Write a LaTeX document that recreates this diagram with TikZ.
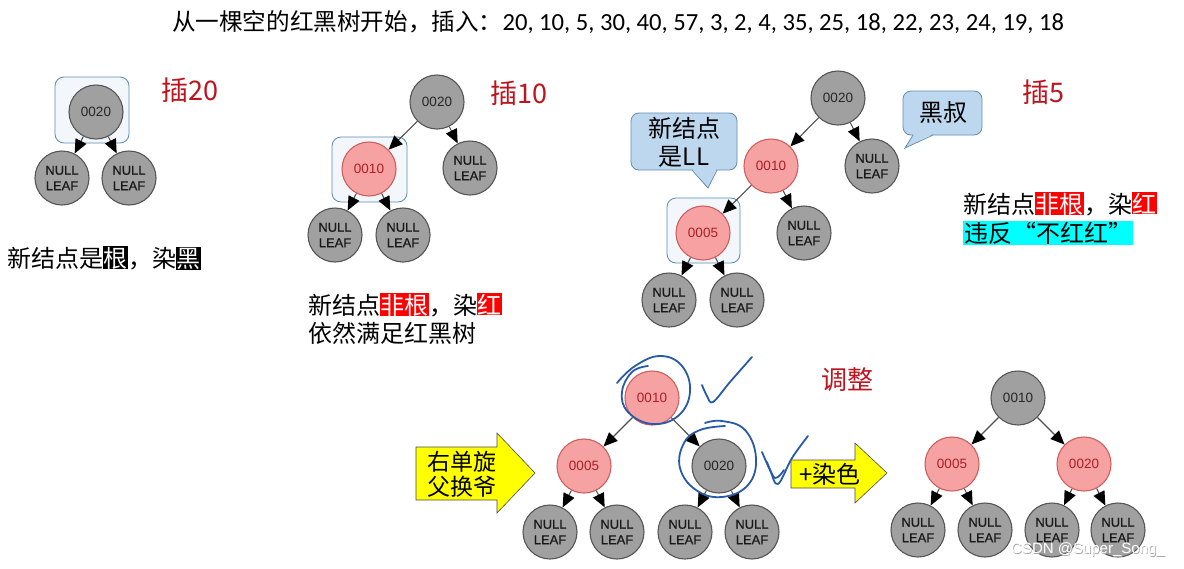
\documentclass[tikz,border=0pt]{standalone}
\usepackage{fontspec}
\setmainfont{Liberation Sans}
\newfontfamily\cjk{Noto Sans CJK SC}
\newfontfamily\califont{Carlito}
\newfontfamily\nodefont[FakeBold=0.5]{Liberation Sans}
\usetikzlibrary{arrows.meta}
\definecolor{ngray}{RGB}{160,160,160}
\definecolor{ngraydraw}{RGB}{85,85,85}
\definecolor{nred}{RGB}{246,162,162}
\definecolor{nreddraw}{RGB}{205,95,95}
\definecolor{nredtext}{RGB}{170,30,40}
\definecolor{titlered}{RGB}{190,20,30}
\definecolor{hlred}{RGB}{255,0,0}
\definecolor{hlcyan}{RGB}{0,255,255}
\definecolor{boxfill}{RGB}{243,247,252}
\definecolor{boxdraw}{RGB}{90,140,180}
\definecolor{cofill}{RGB}{189,215,238}
\definecolor{codraw}{RGB}{100,140,180}
\definecolor{inkblue}{RGB}{40,90,170}
\definecolor{arrowyellow}{RGB}{255,255,0}
\definecolor{edgegray}{RGB}{80,80,80}
\newcommand\hlr[1]{{\setlength\fboxsep{0.5pt}\colorbox{hlred}{\textcolor{white}{#1}}}}
\newcommand\hlk[1]{{\setlength\fboxsep{0.5pt}\colorbox{black}{\textcolor{white}{#1}}}}
\tikzset{
  gnode/.style={circle,draw=ngraydraw,fill=ngray,line width=1.1pt,minimum size=54pt,inner sep=0pt,font=\fontsize{13.5}{13.5}\selectfont,text=black!85},
  rnode/.style={gnode,draw=nreddraw,fill=nred,text=nredtext},
  leaf/.style={gnode,align=center,font=\nodefont\fontsize{13}{15.5}\selectfont,text=black!90},
  tedge/.style={draw=edgegray,line width=1.1pt,-{Triangle[length=14pt,width=12pt,fill=black,color=black]}},
  hlbox/.style={draw=boxdraw,fill=boxfill,line width=0.8pt,rounded corners=9pt},
  cofillst/.style={fill=cofill},
  codrawst/.style={draw=codraw,line width=0.8pt},
  cn/.style={font=\cjk\fontsize{24}{28}\selectfont,inner sep=0pt,anchor=west},
  cnc/.style={font=\cjk\fontsize{24}{28}\selectfont,inner sep=0pt,align=center},
  redlab/.style={font=\cjk\fontsize{27}{27}\selectfont,text=titlered,inner sep=0pt},
  inkline/.style={draw=inkblue,line width=1.8pt,line cap=round,line join=round},
  yarrow/.style={fill=arrowyellow,draw=gray!60!black,line width=0.6pt}
}
\begin{document}
\begin{tikzpicture}[x=1pt,y=-1pt]
\useasboundingbox[fill=white] (0,0) rectangle (1184,568);

% title
\node[inner sep=0pt] (title) at (618,22) {{\cjk\fontsize{23.6}{23.6}\selectfont 从一棵空的红黑树开始，插入：}{\califont\fontsize{24.6}{24.6}\selectfont 20, 10, 5, 30, 40, 57, 3, 2, 4, 35, 25, 18, 22, 23, 24, 19, 18}};

% ---------- tree 1 ----------
\draw[hlbox] (55,77) rectangle (129,143);
\node[gnode] (a20) at (96,112) {0020};
\node[leaf] (a1) at (62,178) {NULL\\LEAF};
\node[leaf] (a2) at (129,178) {NULL\\LEAF};
\draw[tedge] (a20) -- (a1);
\draw[tedge] (a20) -- (a2);
\node[redlab] (l1) at (190,90) {插20};
\node[cn] (t1) at (7,258) {新结点是\hlk{根}，染\hlk{黑}};

% ---------- tree 2 ----------
\draw[hlbox] (332,137) rectangle (407,202);
\node[gnode] (b20) at (437,102) {0020};
\node[rnode] (b10) at (369,169) {0010};
\node[leaf] (b1) at (470,168) {NULL\\LEAF};
\node[leaf] (b2) at (335,235) {NULL\\LEAF};
\node[leaf] (b3) at (403,235) {NULL\\LEAF};
\draw[tedge] (b20) -- (b10);
\draw[tedge] (b20) -- (b1);
\draw[tedge] (b10) -- (b2);
\draw[tedge] (b10) -- (b3);
\node[redlab] (l2) at (519,93) {插10};
\node[cn] (t2a) at (308,305) {新结点\hlr{非根}，染\hlr{红}};
\node[cn] (t2b) at (308,333) {依然满足红黑树};

% ---------- tree 3 ----------
\draw[hlbox] (667,198) rectangle (740,263);
\node[gnode] (c20) at (838,98) {0020};
\node[rnode] (c10) at (771,166) {0010};
\node[leaf] (c1) at (872,166) {NULL\\LEAF};
\node[rnode] (c05) at (703,233) {0005};
\node[leaf] (c2) at (804,233) {NULL\\LEAF};
\node[leaf] (c3) at (669,300) {NULL\\LEAF};
\node[leaf] (c4) at (737,300) {NULL\\LEAF};
\draw[tedge] (c20) -- (c10);
\draw[tedge] (c20) -- (c1);
\draw[tedge] (c10) -- (c05);
\draw[tedge] (c10) -- (c2);
\draw[tedge] (c05) -- (c3);
\draw[tedge] (c05) -- (c4);

% callout 1
\draw[cofillst,codrawst,rounded corners=8pt] (631,113) rectangle (737,170);
\fill[cofillst] (692.6,169) -- (708,188) -- (716.4,169) -- cycle;
\draw[codrawst] (692,170) -- (708,188) -- (717,170);
\node[cnc] (co1) at (684,142) {新结点\\是LL};
% callout 2
\draw[cofillst,codrawst,rounded corners=8pt] (903,91) rectangle (982,135);
\fill[cofillst] (913.6,134) -- (905,148) -- (932.4,134) -- cycle;
\draw[codrawst] (913,135) -- (905,148) -- (933,135);
\node[cnc] (co2) at (943,113) {黑叔};

\node[redlab] (l3) at (1043,92) {插5};
\node[cn] (t3a) at (963,204) {新结点\hlr{非根}，染\hlr{红}};
\node[cn] (t3b) at (963,233) {{\setlength\fboxsep{1pt}\colorbox{hlcyan}{违反{\addfontfeatures{CharacterWidth=Full}“}不红红{\addfontfeatures{CharacterWidth=Full}”}}}};

% ---------- bottom middle tree ----------
\node[rnode] (d10) at (652,398) {0010};
\node[rnode] (d05) at (584,466) {0005};
\node[gnode] (d20) at (719,466) {0020};
\node[leaf] (d1) at (550,532) {NULL\\LEAF};
\node[leaf] (d2) at (617,532) {NULL\\LEAF};
\node[leaf] (d3) at (685,532) {NULL\\LEAF};
\node[leaf] (d4) at (752,532) {NULL\\LEAF};
\draw[tedge] (d10) -- (d05);
\draw[tedge] (d10) -- (d20);
\draw[tedge] (d05) -- (d1);
\draw[tedge] (d05) -- (d2);
\draw[tedge] (d20) -- (d3);
\draw[tedge] (d20) -- (d4);

% ink marks
\draw[inkline] plot[smooth,tension=0.7] coordinates {(617,383) (635,366) (660,356) (682,366) (690,392) (678,416) (652,424) (628,412) (622,392) (632,372) (648,366)};
\draw[inkline] plot[smooth,tension=0.6] coordinates {(702,385) (707,396) (713,402) (730,382) (752,357)};
\draw[inkline] plot[smooth,tension=0.7] coordinates {(705,423) (722,421) (745,430) (756,458) (748,485) (722,497) (696,490) (680,468) (684,443) (700,430) (725,426)};
\draw[inkline] plot[smooth,tension=0.6] coordinates {(762,452) (770,470) (778,484) (792,458) (808,436)};
\draw[inkline] plot[smooth,tension=0.6] coordinates {(767,462) (775,478) (784,470)};

% yellow arrows
\draw[yarrow] (416,447) -- (497,447) -- (497,433) -- (535,473) -- (497,513) -- (497,500) -- (416,500) -- cycle;
\node[cnc,font=\cjk\fontsize{23}{25}\selectfont] (ya) at (462,474) {右单旋\\父换爷};
\draw[yarrow] (791,460) -- (855,460) -- (855,443) -- (887,473) -- (855,503) -- (855,488) -- (791,488) -- cycle;
\node[cnc] (yb) at (830,474) {+染色};
\node[redlab,font=\cjk\fontsize{26}{26}\selectfont] (l4) at (847,380) {调整};

% ---------- bottom right tree ----------
\node[gnode] (e10) at (1018,398) {0010};
\node[rnode] (e05) at (952,464) {0005};
\node[rnode] (e20) at (1084,464) {0020};
\node[leaf] (e1) at (918,530) {NULL\\LEAF};
\node[leaf] (e2) at (985,530) {NULL\\LEAF};
\node[leaf] (e3) at (1052,530) {NULL\\LEAF};
\node[leaf] (e4) at (1118,530) {NULL\\LEAF};
\draw[tedge] (e10) -- (e05);
\draw[tedge] (e10) -- (e20);
\draw[tedge] (e05) -- (e1);
\draw[tedge] (e05) -- (e2);
\draw[tedge] (e20) -- (e3);
\draw[tedge] (e20) -- (e4);

% watermark
\node[font=\fontsize{15}{15}\selectfont,text=gray!70,inner sep=0pt] (wm0) at (1088.7,550.7) {CSDN @Super\_Song\_};
\node[font=\fontsize{15}{15}\selectfont,text=white,inner sep=0pt] (wm) at (1088,550) {CSDN @Super\_Song\_};
\end{tikzpicture}
\end{document}
